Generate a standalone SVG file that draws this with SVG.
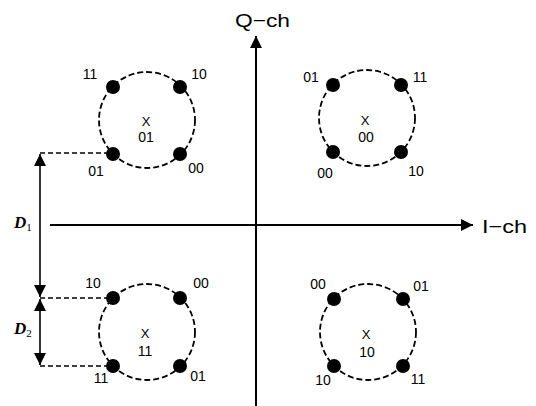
<svg xmlns="http://www.w3.org/2000/svg" width="536" height="406" viewBox="0 0 536 406">
<defs>
<style>
.ring{fill:none;stroke:#000;stroke-width:1.8;stroke-dasharray:6,3}
.dot{fill:#000}
.lbl{font-family:"Liberation Sans",Arial,sans-serif;font-size:14px;fill:#000;text-anchor:middle}
.x{font-family:"Liberation Sans",Arial,sans-serif;font-size:13px;fill:#000;text-anchor:middle}
.ax{font-family:"Liberation Sans",Arial,sans-serif;font-size:19px;fill:#000}
.axis{stroke:#000;stroke-width:2;fill:none}
.dim{stroke:#000;stroke-width:1.6;fill:none}
.guide{stroke:#000;stroke-width:1.4;stroke-dasharray:5,3;fill:none}
.dl{font-family:"Liberation Serif","Times New Roman",serif;font-style:italic;font-weight:bold;font-size:17px;fill:#000}
.sub{font-family:"Liberation Serif","Times New Roman",serif;font-style:normal;font-weight:normal;font-size:11px;fill:#000}
</style>
<marker id="ah" viewBox="0 0 10 10" refX="10" refY="5" markerWidth="13" markerHeight="12" markerUnits="userSpaceOnUse" orient="auto-start-reverse">
<path d="M0,0 L10,5 L0,10 z" fill="#000"/>
</marker>
</defs>
<g id="connectors">
<line class="axis" x1="256" y1="406" x2="256" y2="36" marker-end="url(#ah)"/>
<line class="axis" x1="50" y1="225" x2="473" y2="225" marker-end="url(#ah)"/>
<line class="guide" x1="40" y1="153" x2="110" y2="153"/>
<line class="guide" x1="40" y1="298" x2="110" y2="298"/>
<line class="guide" x1="40" y1="366" x2="110" y2="366"/>
<line class="dim" x1="40" y1="154" x2="40" y2="297" marker-start="url(#ah)" marker-end="url(#ah)"/>
<line class="dim" x1="40" y1="299" x2="40" y2="365" marker-start="url(#ah)" marker-end="url(#ah)"/>
</g>
<g id="axis-labels">
<text class="ax" x="235" y="27" textLength="55" lengthAdjust="spacingAndGlyphs">Q−ch</text>
<text class="ax" x="482" y="233" textLength="45" lengthAdjust="spacingAndGlyphs">I−ch</text>
<text class="dl" x="14" y="228">D<tspan class="sub" dy="3">1</tspan></text>
<text class="dl" x="14" y="334">D<tspan class="sub" dy="3">2</tspan></text>
</g>
<g id="cluster-01">
<circle class="ring" cx="147" cy="120" r="48"/>
<circle class="dot" cx="113" cy="87" r="7"/>
<circle class="dot" cx="180" cy="87" r="7"/>
<circle class="dot" cx="113" cy="154" r="7"/>
<circle class="dot" cx="180" cy="154" r="7"/>
<text class="x" x="146" y="126">X</text>
<text class="lbl" x="146" y="142">01</text>
<text class="lbl" x="90" y="79">11</text>
<text class="lbl" x="199" y="79">10</text>
<text class="lbl" x="96" y="176">01</text>
<text class="lbl" x="196" y="173">00</text>
</g>
<g id="cluster-00">
<circle class="ring" cx="367" cy="118" r="48"/>
<circle class="dot" cx="333" cy="85" r="7"/>
<circle class="dot" cx="401" cy="85" r="7"/>
<circle class="dot" cx="333" cy="152" r="7"/>
<circle class="dot" cx="401" cy="152" r="7"/>
<text class="x" x="365" y="125">X</text>
<text class="lbl" x="366" y="142">00</text>
<text class="lbl" x="311" y="82">01</text>
<text class="lbl" x="420" y="82">11</text>
<text class="lbl" x="325" y="178">00</text>
<text class="lbl" x="416" y="176">10</text>
</g>
<g id="cluster-11">
<circle class="ring" cx="147" cy="332" r="48"/>
<circle class="dot" cx="113" cy="298" r="7"/>
<circle class="dot" cx="180" cy="298" r="7"/>
<circle class="dot" cx="113" cy="366" r="7"/>
<circle class="dot" cx="180" cy="366" r="7"/>
<text class="x" x="145" y="338">X</text>
<text class="lbl" x="145" y="356">11</text>
<text class="lbl" x="93" y="288">10</text>
<text class="lbl" x="201" y="288">00</text>
<text class="lbl" x="101" y="383">11</text>
<text class="lbl" x="198" y="381">01</text>
</g>
<g id="cluster-10">
<circle class="ring" cx="368" cy="332" r="48"/>
<circle class="dot" cx="334" cy="299" r="7"/>
<circle class="dot" cx="403" cy="299" r="7"/>
<circle class="dot" cx="334" cy="366" r="7"/>
<circle class="dot" cx="403" cy="366" r="7"/>
<text class="x" x="366" y="339">X</text>
<text class="lbl" x="367" y="357">10</text>
<text class="lbl" x="318" y="289">00</text>
<text class="lbl" x="421" y="291">01</text>
<text class="lbl" x="323" y="385">10</text>
<text class="lbl" x="418" y="384">11</text>
</g>
</svg>
